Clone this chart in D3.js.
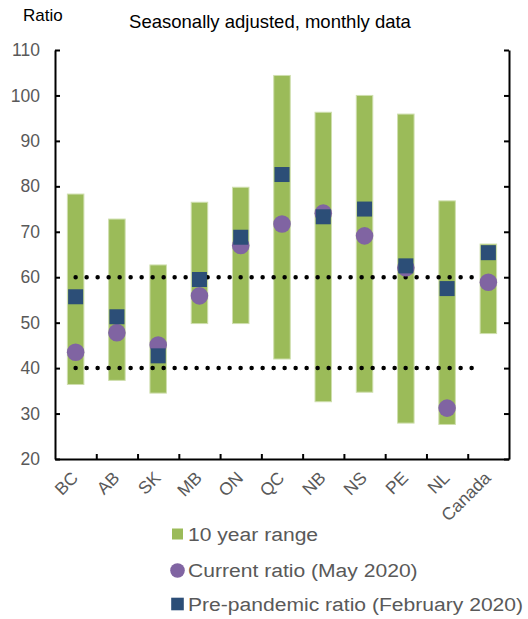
<!DOCTYPE html>
<html>
<head>
<meta charset="utf-8">
<script src="https://cdn.jsdelivr.net/npm/d3@7"></script>
<style>
  html, body { margin: 0; padding: 0; background: #fff; }
  svg { display: block; font-family: "Liberation Sans", Arial, sans-serif; }
</style>
</head>
<body>
<svg id="chart" width="528" height="619"></svg>
<script>
// Provinces and Canada, in display order
const regions = ["BC", "AB", "SK", "MB", "ON", "QC", "NB", "NS", "PE", "NL", "Canada"];
// 10-year range of the ratio (low / high)
const rangeLow  = [36.4, 37.3, 34.5, 49.8, 49.8, 42.0, 32.6, 34.7, 27.9, 27.6, 47.6];
const rangeHigh = [78.3, 72.8, 62.7, 76.5, 79.8, 104.4, 96.3, 100.0, 95.9, 76.8, 67.3];
// Current ratio (May 2020)
const currentRatio = [43.5, 47.8, 45.1, 55.9, 67.0, 71.7, 74.1, 69.1, 62.1, 31.2, 58.9];
// Pre-pandemic ratio (February 2020)
const prePandemicRatio = [55.7, 51.3, 42.7, 59.5, 68.8, 82.6, 73.3, 75.0, 62.5, 57.5, 65.4];
// Reference bands
const referenceLines = [40, 60];
const yTicks = [20, 30, 40, 50, 60, 70, 80, 90, 100, 110];
const legendLabels = ["10 year range", "Current ratio (May 2020)", "Pre-pandemic ratio (February 2020)"];

const colors = { range: "#9BBB59", rangeEdge: "#CFDFAE", current: "#8064A2", pre: "#2C4E77", text: "#595959" };

const svg = d3.select("#chart");
const margin = { left: 55, right: 19, top: 50, bottom: 160 };
const W = 528, H = 619;

const x = d3.scaleBand().domain(regions).range([margin.left, W - margin.right]).padding(0);
const xEdges = d3.scaleLinear().domain([0, regions.length]).range([margin.left, W - margin.right]);
const y = d3.scaleLinear().domain([20, 110]).range([H - margin.bottom, margin.top]);

const data = regions.map((r, i) => ({
  region: r, low: rangeLow[i], high: rangeHigh[i],
  current: currentRatio[i], pre: prePandemicRatio[i]
}));

// Titles
svg.append("text").attr("x", 23).attr("y", 21)
  .attr("font-size", 17).attr("fill", "#000").text("Ratio");
svg.append("text").attr("x", 270).attr("y", 28).attr("text-anchor", "middle")
  .attr("font-size", 18.5).attr("fill", "#000").text("Seasonally adjusted, monthly data");

// 10-year range bars
const barW = x.bandwidth() * 0.4;
svg.append("g").selectAll("rect").data(data).join("rect")
  .attr("x", d => x(d.region) + x.bandwidth() / 2 - barW / 2)
  .attr("width", barW)
  .attr("y", d => y(d.high))
  .attr("height", d => y(d.low) - y(d.high))
  .attr("fill", colors.range)
  .attr("stroke", colors.rangeEdge)
  .attr("stroke-width", 1);

// Dotted reference lines, from the first province into the Canada column
svg.append("g").selectAll("line").data(referenceLines).join("line")
  .attr("x1", x("BC") + x.bandwidth() / 2)
  .attr("x2", x("Canada") + x.bandwidth() * 0.3)
  .attr("y1", d => y(d)).attr("y2", d => y(d))
  .attr("stroke", "#000")
  .attr("stroke-width", 4.5)
  .attr("stroke-linecap", "round")
  .attr("stroke-dasharray", "0 11");

// Current ratio markers
svg.append("g").selectAll("circle").data(data).join("circle")
  .attr("cx", d => x(d.region) + x.bandwidth() / 2)
  .attr("cy", d => y(d.current))
  .attr("r", 8.8)
  .attr("fill", colors.current);

// Pre-pandemic ratio markers
const sq = 15;
svg.append("g").selectAll("rect").data(data).join("rect")
  .attr("x", d => x(d.region) + x.bandwidth() / 2 - sq / 2)
  .attr("y", d => y(d.pre) - sq / 2)
  .attr("width", sq).attr("height", sq)
  .attr("fill", colors.pre);

// Axes
const axisStyle = g => {
  g.select(".domain").attr("stroke", "#000").attr("stroke-width", 2);
  g.selectAll(".tick line").attr("stroke", "#000").attr("stroke-width", 2);
};

svg.append("g")
  .attr("transform", `translate(${margin.left},0)`)
  .call(d3.axisLeft(y).tickValues(yTicks).tickSizeInner(-5).tickSizeOuter(0).tickPadding(15))
  .call(axisStyle)
  .call(g => g.selectAll(".tick text").attr("font-size", 17.5).attr("fill", colors.text)
    .attr("font-family", "Liberation Sans, Arial, sans-serif"));

svg.append("g")
  .attr("transform", `translate(${W - margin.right},0)`)
  .call(d3.axisRight(y).tickValues(yTicks).tickSizeInner(-5).tickSizeOuter(0).tickFormat(""))
  .call(axisStyle);

svg.append("g")
  .attr("transform", `translate(0,${H - margin.bottom})`)
  .call(d3.axisBottom(xEdges).tickValues(d3.range(1, regions.length)).tickSizeInner(-5).tickSizeOuter(0).tickFormat(""))
  .call(axisStyle);

// Category labels, rotated
svg.append("g").selectAll("text").data(regions).join("text")
  .attr("transform", d => `translate(${x(d) + x.bandwidth() / 2 + 3.5},${H - margin.bottom + 20}) rotate(-45)`)
  .attr("text-anchor", "end")
  .attr("font-size", 17.5)
  .attr("fill", colors.text)
  .text(d => d);

// Legend
const legend = svg.append("g").attr("transform", "translate(177.5,0)");
const rowY = [534, 570.5, 604];
legend.append("rect").attr("x", -5.5).attr("y", rowY[0] - 5.5).attr("width", 11).attr("height", 11).attr("fill", colors.range);
legend.append("circle").attr("cx", 0).attr("cy", rowY[1]).attr("r", 7.3).attr("fill", colors.current);
legend.append("rect").attr("x", -6.3).attr("y", rowY[2] - 6.3).attr("width", 12.6).attr("height", 12.6).attr("fill", colors.pre);
legend.selectAll("text.lab").data(legendLabels).join("text")
  .attr("class", "lab")
  .attr("transform", (d, i) => `translate(10.5,${rowY[i] + 6.5}) scale(1.11,1)`)
  .attr("font-size", 19)
  .attr("fill", colors.text)
  .text(d => d);
</script>
</body>
</html>
